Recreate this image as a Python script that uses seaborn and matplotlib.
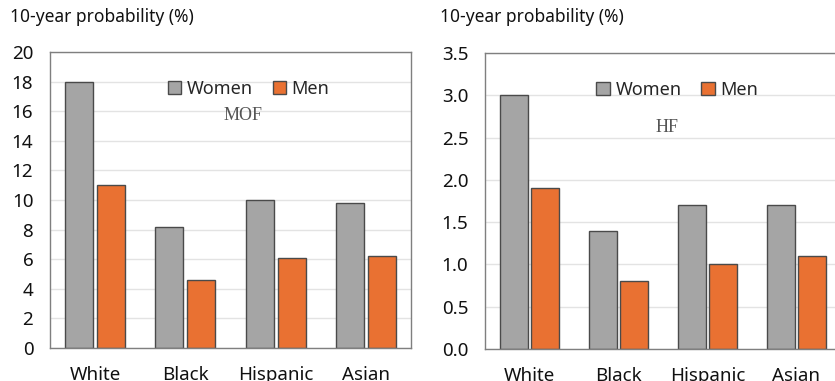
import numpy as np
import pandas as pd
import matplotlib
matplotlib.use("Agg")
import matplotlib.pyplot as plt
import seaborn as sns

# data
groups = ['White', 'Black', 'Hispanic', 'Asian']
mof_women = [18.0, 8.2, 10.0, 9.8]
mof_men = [11.0, 4.6, 6.1, 6.2]
hf_women = [3.0, 1.4, 1.7, 1.7]
hf_men = [1.9, 0.8, 1.0, 1.1]
mof_ticks = [0, 2, 4, 6, 8, 10, 12, 14, 16, 18, 20]
hf_ticks = [0.0, 0.5, 1.0, 1.5, 2.0, 2.5, 3.0, 3.5]

gray = '#A5A5A5'
orange = '#E97132'
edge = '#4a4a4a'

sns.set_theme(style='white')
plt.rcParams['font.family'] = ['Noto Sans', 'DejaVu Sans']


def long_df(women, men):
    return pd.DataFrame({
        'group': groups * 2,
        'value': women + men,
        'sex': ['Women'] * len(groups) + ['Men'] * len(groups),
    })


fig = plt.figure(figsize=(8.35, 3.81), dpi=100)
ax1 = fig.add_axes([50 / 835, 33 / 381, 361 / 835, 296 / 381])
ax2 = fig.add_axes([485 / 835, 32 / 381, 356 / 835, 296 / 381])

panels = [
    (ax1, long_df(mof_women, mof_men), mof_ticks, 'MOF', (0.55, 0.875), (0.535, 0.785), '%d'),
    (ax2, long_df(hf_women, hf_men), hf_ticks, 'HF', (0.54, 0.875), (0.51, 0.75), '%.1f'),
]

for ax, df, ticks, tag, leg_pos, tag_pos, fmt in panels:
    sns.barplot(data=df, x='group', y='value', hue='sex',
                palette=[gray, orange], width=0.71, gap=0.12,
                edgecolor=edge, linewidth=1.0, saturation=1, ax=ax)
    ax.set_ylim(ticks[0], ticks[-1])
    ax.set_yticks(ticks)
    ax.set_yticklabels([fmt % t for t in ticks])
    ax.set_xlabel('')
    ax.set_ylabel('')
    ax.grid(axis='y', color='#e3e3e3', linewidth=1)
    ax.set_axisbelow(True)
    for s in ax.spines.values():
        s.set_color('#7f7f7f')
        s.set_linewidth(1)
    ax.tick_params(axis='y', length=0, pad=12, labelsize=13.5, colors='#111111')
    ax.tick_params(axis='x', length=0, pad=13, labelsize=13.5, colors='#111111')
    handles, labels = ax.get_legend_handles_labels()
    ax.legend(handles, labels, loc='center', bbox_to_anchor=leg_pos,
              ncol=2, frameon=False, fontsize=13, handlelength=0.75,
              handleheight=0.75, handletextpad=0.3, columnspacing=1.1)
    ax.text(tag_pos[0], tag_pos[1], tag, transform=ax.transAxes,
            ha='center', va='center', fontsize=13,
            family='Liberation Serif', color='#555555')

fig.text(10 / 835, 1 - 17 / 381, '10-year probability (%)', fontsize=12.5,
         ha='left', va='center', color='#111111')
fig.text(440 / 835, 1 - 17 / 381, '10-year probability (%)', fontsize=12.5,
         ha='left', va='center', color='#111111')

fig.savefig('out.png', dpi=100)
